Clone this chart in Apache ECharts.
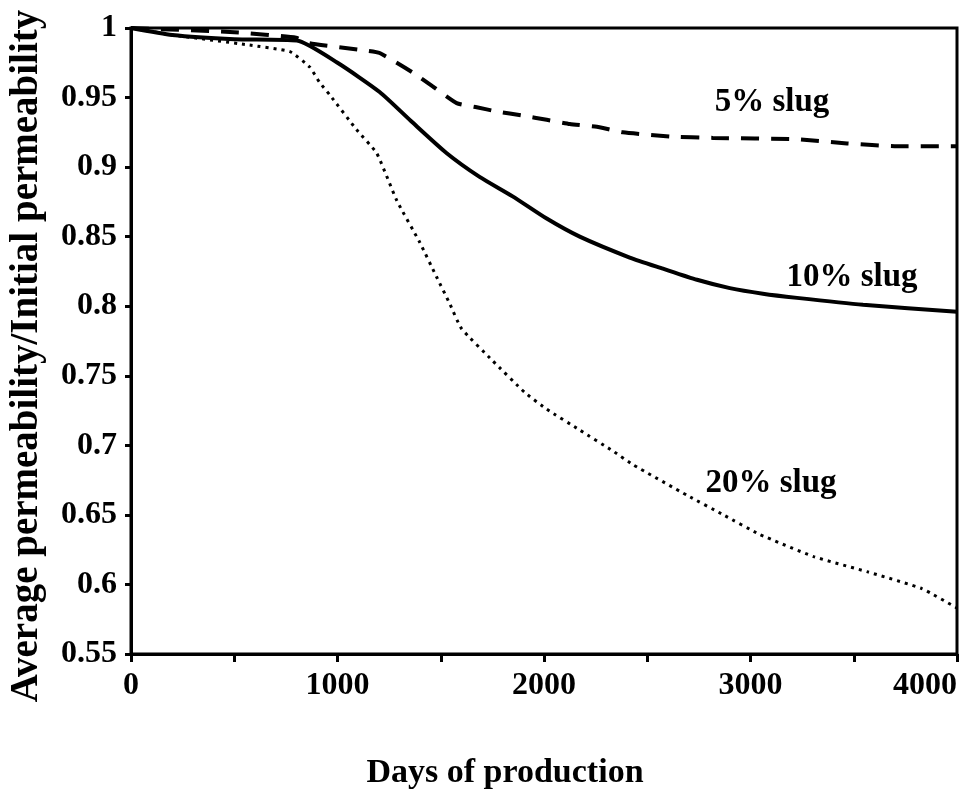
<!DOCTYPE html>
<html>
<head>
<meta charset="utf-8">
<script src="https://cdn.jsdelivr.net/npm/echarts@6/dist/echarts.min.js"></script>
<style>
  html, body { margin: 0; padding: 0; background: #fff; }
  #chart { width: 966px; height: 796px; }
</style>
</head>
<body>
<div id="chart"></div>
<script>
// values
var days5  = [0, 500, 800, 865, 1121, 1204, 1364, 1461, 1577, 1674, 1771, 1897, 2013, 2125, 2256, 2382, 2610, 2818, 3225, 3467, 3710, 4000];
var perm5  = [1.0, 0.997, 0.993, 0.989, 0.984, 0.982, 0.968, 0.958, 0.946, 0.943, 0.940, 0.937, 0.934, 0.931, 0.929, 0.925, 0.922, 0.921, 0.920, 0.917, 0.915, 0.915];

var days10 = [0, 200, 500, 803, 1000, 1204, 1364, 1529, 1688, 1848, 2013, 2173, 2415, 2576, 2741, 2900, 3060, 3225, 3545, 4000];
var perm10 = [1.0, 0.995, 0.992, 0.991, 0.975, 0.954, 0.932, 0.910, 0.893, 0.879, 0.863, 0.850, 0.835, 0.827, 0.819, 0.813, 0.809, 0.806, 0.801, 0.796];

var days20 = [0, 200, 560, 770, 865, 913, 962, 1092, 1190, 1287, 1398, 1480, 1543, 1600, 1750, 1907, 2013, 2173, 2333, 2432, 2694, 2869, 3044, 3306, 3568, 3830, 4000];
var perm20 = [1.0, 0.995, 0.988, 0.983, 0.972, 0.961, 0.952, 0.927, 0.910, 0.876, 0.846, 0.821, 0.802, 0.784, 0.761, 0.738, 0.726, 0.711, 0.696, 0.686, 0.664, 0.650, 0.636, 0.620, 0.609, 0.597, 0.583];

var xTicks = [0, 1000, 2000, 3000, 4000];
var yTicks = ['1', '0.95', '0.9', '0.85', '0.8', '0.75', '0.7', '0.65', '0.6', '0.55'];

var serif = '"Liberation Serif", "DejaVu Serif", serif';

function pairs(xs, ys) {
    var out = [];
    for (var i = 0; i < xs.length; i++) {
        out.push([xs[i], ys[i]]);
    }
    return out;
}

function label(text, x, y, size) {
    return {
        type: 'text', x: x, y: y,
        style: {
            text: text, font: 'bold ' + size + 'px ' + serif, fill: '#000',
            align: 'center', verticalAlign: 'middle',
            textAlign: 'center', textVerticalAlign: 'middle'
        }
    };
}

var chart = echarts.init(document.getElementById('chart'));

var yTitle = label('Average permeability/Initial permeability', 27, 356, 39);
yTitle.rotation = Math.PI / 2;

var option = {
    backgroundColor: '#fff',
    animation: false,
    grid: {
        left: 131,
        right: 9,
        top: 28,
        bottom: 142,
        show: true,
        borderColor: '#000',
        borderWidth: 3
    },
    xAxis: {
        type: 'value',
        min: 0,
        max: 4000,
        interval: 500,
        axisLine: { show: true, lineStyle: { color: '#000', width: 3 } },
        axisTick: { show: true, length: 8, lineStyle: { color: '#000', width: 3 } },
        splitLine: { show: false },
        axisLabel: {
            margin: 16,
            color: '#000',
            fontFamily: serif,
            fontWeight: 'bold',
            fontSize: 32,
            alignMaxLabel: 'right',
            formatter: function (v) {
                return xTicks.indexOf(v) >= 0 ? String(v) : '';
            }
        }
    },
    yAxis: {
        type: 'value',
        min: 0.55,
        max: 1,
        interval: 0.05,
        axisLine: { show: true, lineStyle: { color: '#000', width: 3 } },
        axisTick: { show: true, length: 6, lineStyle: { color: '#000', width: 3 } },
        splitLine: { show: false },
        axisLabel: {
            margin: 14,
            color: '#000',
            fontFamily: serif,
            fontWeight: 'bold',
            fontSize: 32,
            formatter: function (v) {
                var idx = Math.round((1 - v) / 0.05);
                return yTicks[idx];
            }
        }
    },
    series: [
        {
            name: '5% slug',
            type: 'line',
            data: pairs(days5, perm5),
            symbol: 'none',
            smooth: 0.15,
            lineStyle: { color: '#000', width: 4, type: [18, 12] }
        },
        {
            name: '10% slug',
            type: 'line',
            data: pairs(days10, perm10),
            symbol: 'none',
            smooth: 0.2,
            lineStyle: { color: '#000', width: 4, type: 'solid' }
        },
        {
            name: '20% slug',
            type: 'line',
            data: pairs(days20, perm20),
            symbol: 'none',
            smooth: 0.15,
            lineStyle: { color: '#000', width: 3, type: [3, 5] }
        }
    ],
    graphic: [
        label('5% slug', 772, 102, 33),
        label('10% slug', 852, 277, 33),
        label('20% slug', 771, 483, 33),
        label('Days of production', 505, 773, 34),
        yTitle
    ]
};

chart.setOption(option);
</script>
</body>
</html>
